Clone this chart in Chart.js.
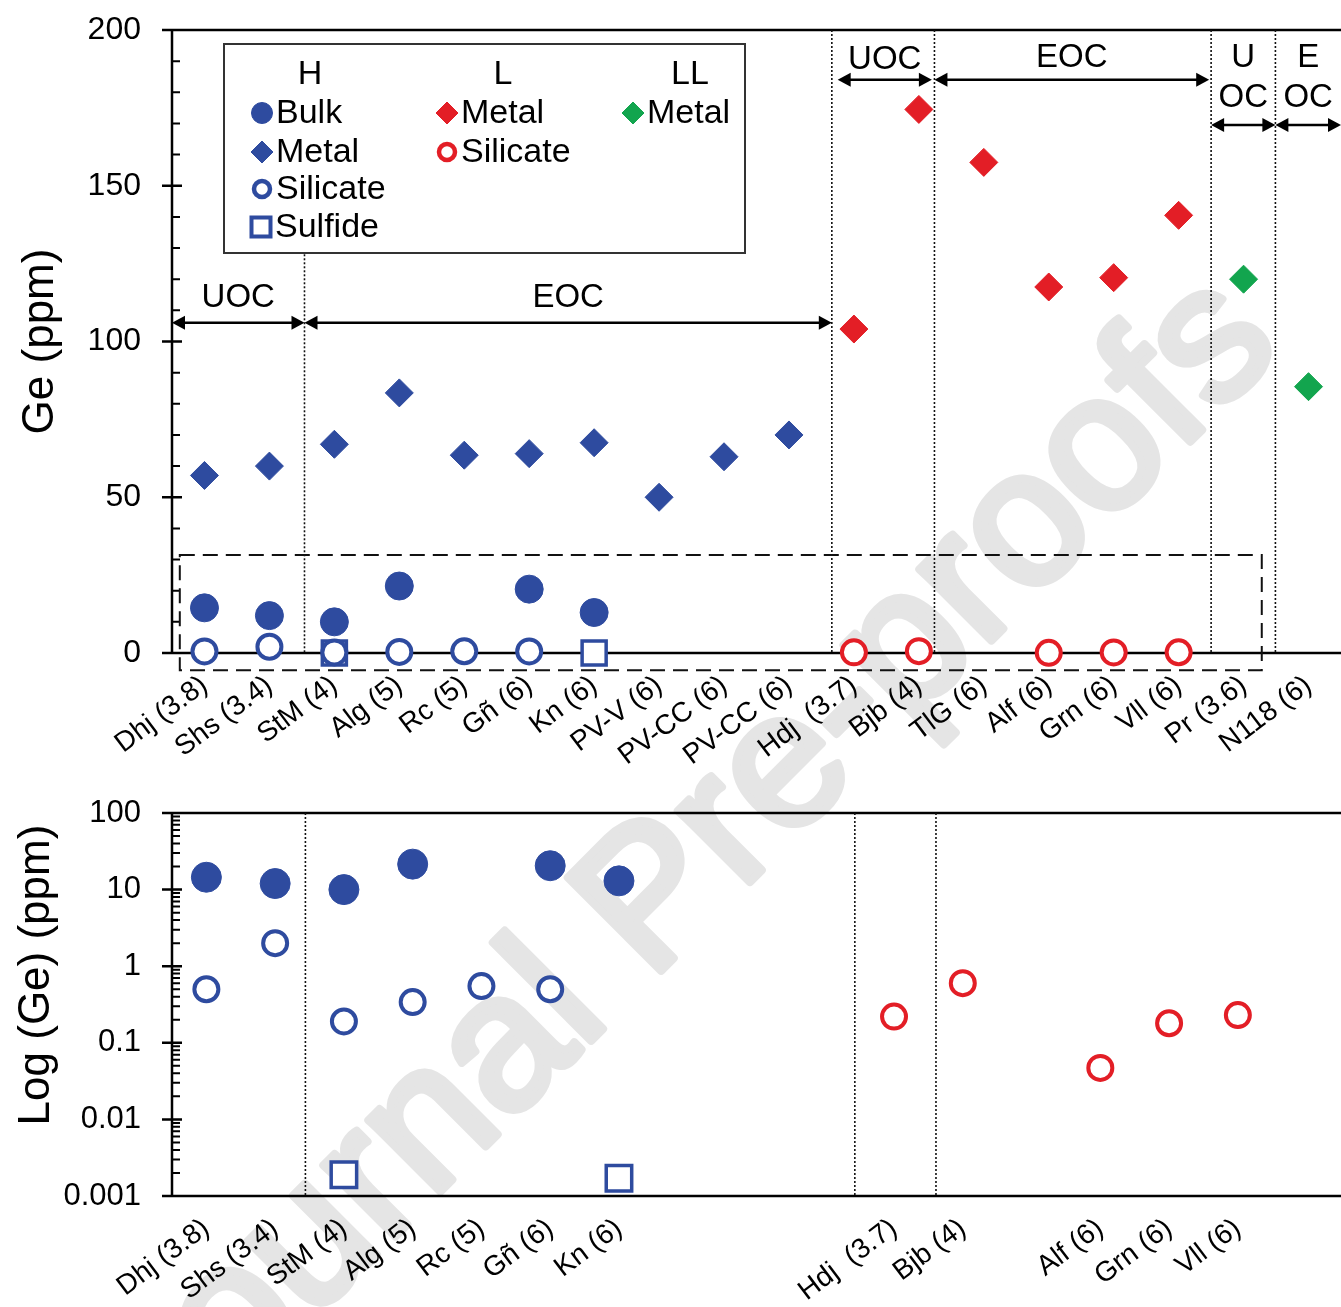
<!DOCTYPE html>
<html lang="en">
<head>
<meta charset="UTF-8">
<title>Ge (ppm) in ordinary chondrites</title>
<script src="https://cdn.jsdelivr.net/npm/chart.js"></script>
<style>
  body { margin: 0; background: #fff; }
  #wrap { position: relative; width: 1341px; height: 1307px; overflow: hidden; }
  #mark { position: absolute; left: 0; top: 0; }
  .box { position: absolute; left: 0; width: 1341px; }
  #topBox { top: 0; height: 790px; }
  #botBox { top: 790px; height: 517px; }
</style>
</head>
<body>
<div id="wrap">
  <canvas id="mark" width="1341" height="1307"></canvas>
  <div class="box" id="topBox"><canvas id="top"></canvas></div>
  <div class="box" id="botBox"><canvas id="bottom"></canvas></div>
</div>
<script>
// samples, petrologic type in brackets
const samples = ['Dhj (3.8)', 'Shs (3.4)', 'StM (4)', 'Alg (5)', 'Rc (5)', 'Gñ (6)', 'Kn (6)',
  'PV-V (6)', 'PV-CC (6)', 'PV-CC (6)', 'Hdj  (3.7)', 'Bjb (4)', 'TlG (6)', 'Alf (6)',
  'Grn (6)', 'Vll (6)', 'Pr (3.6)', 'N118 (6)'];

// Ge (ppm)
const bulkH     = [14.5, 12, 10, 21.5, null, 20.5, 13, null, null, null, null, null, null, null, null, null, null, null];
const metalH    = [57, 60, 67, 83.5, 63.5, 64, 67.5, 50, 63, 70, null, null, null, null, null, null, null, null];
const silicateH = [0.5, 2.0, 0.19, 0.34, 0.55, 0.5, null, null, null, null, null, null, null, null, null, null, null, null];
const sulfideH  = [null, null, 0.0019, null, null, null, 0.0017, null, null, null, null, null, null, null, null, null, null, null];
const metalL    = [null, null, null, null, null, null, null, null, null, null, 104, 174.5, 157.5, 117.5, 120.5, 140.5, null, null];
const silicateL = [null, null, null, null, null, null, null, null, null, null, 0.22, 0.6, null, 0.047, 0.18, 0.23, null, null];
const metalLL   = [null, null, null, null, null, null, null, null, null, null, null, null, null, null, null, null, 120, 85.5];

const linTicks = [0, 50, 100, 150, 200];
const logTicks = [0.001, 0.01, 0.1, 1, 10, 100];

// group separators and UOC / EOC spans, in axis units
const topSeparators = [{ x: 1.54, from: 128 }, { x: 9.66, from: 200 }, { x: 11.24, from: 200 },
  { x: 15.5, from: 200 }, { x: 16.49, from: 200 }];
const logSeparators = [1.44, 9.43, 10.61];
const topSpans = [
  { label: ['UOC'], from: -0.5, to: 1.54, y: 106, labelY: 114 },
  { label: ['EOC'], from: 1.54, to: 9.66, y: 106, labelY: 114 },
  { label: ['UOC'], from: 9.75, to: 11.2, y: 184, labelY: 190.5 },
  { label: ['EOC'], from: 11.24, to: 15.47, y: 184, labelY: 191 },
  { label: ['U', 'OC'], from: 15.5, to: 16.49, y: 169.5, labelY: 191 },
  { label: ['E', 'OC'], from: 16.49, to: 17.5, y: 169.5, labelY: 191 }
];

const FONT = "'Liberation Sans', Arial, sans-serif";
const BLUE = '#2e4b9f', RED = '#e31e26', GREEN = '#12a54e';

function pts(arr) {
  return arr.map((v, i) => (v == null ? null : { x: i, y: v })).filter(p => p);
}

const styles = {
  bulkH:     { pointStyle: 'circle',  pointRadius: 14, pointBackgroundColor: BLUE, pointBorderColor: BLUE, pointBorderWidth: 1 },
  metalH:    { pointStyle: 'rectRot', pointRadius: 14, pointBackgroundColor: BLUE, pointBorderColor: BLUE, pointBorderWidth: 1 },
  silicateH: { pointStyle: 'circle',  pointRadius: 12, pointBackgroundColor: '#fff', pointBorderColor: BLUE, pointBorderWidth: 4 },
  sulfideH:  { pointStyle: 'rect',    pointRadius: 17, pointBackgroundColor: '#fff', pointBorderColor: BLUE, pointBorderWidth: 3.5 },
  metalL:    { pointStyle: 'rectRot', pointRadius: 14, pointBackgroundColor: RED, pointBorderColor: RED, pointBorderWidth: 1 },
  silicateL: { pointStyle: 'circle',  pointRadius: 12, pointBackgroundColor: '#fff', pointBorderColor: RED, pointBorderWidth: 4 },
  metalLL:   { pointStyle: 'rectRot', pointRadius: 14, pointBackgroundColor: GREEN, pointBorderColor: GREEN, pointBorderWidth: 1 }
};

function ds(label, arr, key, extra) {
  return Object.assign({ label: label, data: pts(arr), clip: false, showLine: false }, styles[key], extra || {});
}

// --- small drawing helpers ---
function marker(ctx, style, x, y, r, lw) {
  ctx.save();
  ctx.beginPath();
  if (style.pointStyle === 'circle') {
    ctx.arc(x, y, r, 0, Math.PI * 2);
  } else if (style.pointStyle === 'rectRot') {
    ctx.moveTo(x, y - r); ctx.lineTo(x + r, y); ctx.lineTo(x, y + r); ctx.lineTo(x - r, y); ctx.closePath();
  } else {
    ctx.rect(x - r, y - r, 2 * r, 2 * r);
  }
  ctx.fillStyle = style.pointBackgroundColor;
  ctx.fill();
  ctx.lineWidth = lw;
  ctx.strokeStyle = style.pointBorderColor;
  ctx.stroke();
  ctx.restore();
}

function arrow(ctx, x1, x2, y) {
  const hl = 13, hw = 7;
  ctx.save();
  ctx.strokeStyle = '#000'; ctx.fillStyle = '#000'; ctx.lineWidth = 2.5;
  ctx.beginPath(); ctx.moveTo(x1 + 4, y); ctx.lineTo(x2 - 4, y); ctx.stroke();
  ctx.beginPath(); ctx.moveTo(x1, y); ctx.lineTo(x1 + hl, y - hw); ctx.lineTo(x1 + hl, y + hw); ctx.closePath(); ctx.fill();
  ctx.beginPath(); ctx.moveTo(x2, y); ctx.lineTo(x2 - hl, y - hw); ctx.lineTo(x2 - hl, y + hw); ctx.closePath(); ctx.fill();
  ctx.restore();
}

function frame(chart, minors) {
  const { ctx, chartArea: a, scales: { y } } = chart;
  const yBase = y.getPixelForValue(y.min);
  ctx.save();
  ctx.strokeStyle = '#000';
  ctx.lineWidth = 2.5;
  ctx.beginPath();
  ctx.moveTo(a.left, a.top); ctx.lineTo(chart.width, a.top);
  ctx.moveTo(a.left, a.top); ctx.lineTo(a.left, yBase);
  ctx.moveTo(a.left, yBase); ctx.lineTo(chart.width, yBase);
  y.ticks.forEach(t => {
    const p = y.getPixelForValue(t.value);
    ctx.moveTo(a.left - 10, p); ctx.lineTo(a.left + 10, p);
  });
  ctx.stroke();
  ctx.lineWidth = 2;
  ctx.beginPath();
  minors.forEach(v => {
    const p = y.getPixelForValue(v);
    ctx.moveTo(a.left, p); ctx.lineTo(a.left + 8, p);
  });
  ctx.stroke();
  ctx.restore();
}

function dotted(ctx, x, y1, y2) {
  ctx.save();
  ctx.strokeStyle = '#111'; ctx.lineWidth = 1.6; ctx.setLineDash([2, 2]);
  ctx.beginPath(); ctx.moveTo(x, y1); ctx.lineTo(x, y2); ctx.stroke();
  ctx.restore();
}

const topDecor = {
  id: 'topDecor',
  beforeDatasetsDraw(chart) {
    const { ctx, scales: { x, y } } = chart;
    const minors = [];
    for (let v = 10; v < 200; v += 10) if (v % 50) minors.push(v);
    frame(chart, minors);
    topSeparators.forEach(s => dotted(ctx, x.getPixelForValue(s.x), y.getPixelForValue(s.from), y.getPixelForValue(0)));
    // dashed box round the low values
    ctx.save();
    ctx.strokeStyle = '#111'; ctx.lineWidth = 2; ctx.setLineDash([15, 8]);
    const bx1 = x.getPixelForValue(-0.38), bx2 = x.getPixelForValue(16.28);
    const by1 = y.getPixelForValue(31.5), by2 = y.getPixelForValue(-5.5);
    ctx.strokeRect(bx1, by1, bx2 - bx1, by2 - by1);
    ctx.restore();
  },
  afterDatasetsDraw(chart) {
    const { ctx, scales: { x, y } } = chart;
    // spans
    ctx.save();
    ctx.font = '33px ' + FONT; ctx.fillStyle = '#000'; ctx.textAlign = 'center'; ctx.textBaseline = 'middle';
    topSpans.forEach(s => {
      const x1 = x.getPixelForValue(s.from), x2 = Math.min(x.getPixelForValue(s.to), chart.width + 2);
      arrow(ctx, x1, x2, y.getPixelForValue(s.y));
      const cx = (x.getPixelForValue(s.from) + x.getPixelForValue(s.to)) / 2;
      s.label.forEach((t, k) => ctx.fillText(t, cx, y.getPixelForValue(s.labelY) + k * 40));
    });
    ctx.restore();
    // legend
    const L = 224, T = 44, W = 521, H = 209;
    ctx.save();
    ctx.fillStyle = '#fff'; ctx.fillRect(L, T, W, H);
    ctx.strokeStyle = '#333'; ctx.lineWidth = 2; ctx.strokeRect(L, T, W, H);
    ctx.font = '34px ' + FONT; ctx.fillStyle = '#000'; ctx.textBaseline = 'middle';
    ctx.textAlign = 'center';
    [['H', 310], ['L', 503], ['LL', 690]].forEach(h => ctx.fillText(h[0], h[1], 75));
    ctx.textAlign = 'left';
    const rows = [
      ['bulkH', 'Bulk', 262, 113, 10.5, 1], ['metalH', 'Metal', 262, 152, 11, 1],
      ['silicateH', 'Silicate', 262, 189, 8, 4.5], ['sulfideH', 'Sulfide', 261, 227, 9.5, 4],
      ['metalL', 'Metal', 447, 113, 11, 1], ['silicateL', 'Silicate', 447, 152, 8, 4.5],
      ['metalLL', 'Metal', 633, 113, 11, 1]
    ];
    rows.forEach(r => {
      marker(ctx, styles[r[0]], r[2], r[3], r[4], r[5]);
      ctx.fillStyle = '#000';
      ctx.fillText(r[1], r[2] + 14, r[3] + 1);
    });
    ctx.restore();
  }
};

const logDecor = {
  id: 'logDecor',
  beforeDatasetsDraw(chart) {
    const { ctx, chartArea: a, scales: { x } } = chart;
    const minors = [];
    for (let d = 0; d < logTicks.length - 1; d++)
      for (let k = 2; k <= 9; k++) minors.push(k * logTicks[d]);
    frame(chart, minors);
    logSeparators.forEach(s => dotted(ctx, x.getPixelForValue(s), a.top, a.bottom));
    // axis title sits a little above the middle of the panel
    ctx.save();
    ctx.translate(37, a.top + (a.bottom - a.top) * 0.423);
    ctx.rotate(-Math.PI / 2);
    ctx.font = '44px ' + FONT; ctx.fillStyle = '#000';
    ctx.textAlign = 'center'; ctx.textBaseline = 'middle';
    ctx.fillText('Log (Ge) (ppm)', 0, 0);
    ctx.restore();
  }
};

const xTicks = (size) => ({ autoSkip: false, minRotation: 37, maxRotation: 37, padding: 8, color: '#000',
  font: { family: FONT, size: size } });
const noPadY = (w) => s => { s.width = w; s.paddingTop = 0; s.paddingBottom = 0; };

new Chart(document.getElementById('top'), {
  type: 'scatter',
  data: {
    datasets: [
      ds('H Metal', metalH, 'metalH'),
      ds('H Bulk', bulkH, 'bulkH'),
      ds('H Silicate', silicateH, 'silicateH'),
      ds('H Sulfide', sulfideH, 'sulfideH'),
      ds('L Metal', metalL, 'metalL'),
      ds('L Silicate', silicateL, 'silicateL'),
      ds('LL Metal', metalLL, 'metalLL')
    ]
  },
  options: {
    responsive: true, maintainAspectRatio: false, animation: false,
    layout: { autoPadding: false, padding: { top: 30, right: 0, left: 0, bottom: 0 } },
    plugins: { legend: { display: false }, tooltip: { enabled: false } },
    scales: {
      x: {
        type: 'linear', min: -0.5, max: 17.5,
        grid: { display: false }, border: { display: false },
        afterBuildTicks: s => { s.ticks = samples.map((_, i) => ({ value: i })); },
        afterFit: s => { s.height = 137; s.paddingLeft = 0; s.paddingRight = 0; },
        ticks: Object.assign(xTicks(28), { callback: v => samples[v] })
      },
      y: {
        type: 'linear', min: 0, max: 200,
        grid: { display: false }, border: { display: false },
        afterBuildTicks: s => { s.ticks = linTicks.map(v => ({ value: v })); },
        afterFit: noPadY(172),
        ticks: { padding: 23, color: '#000', font: { family: FONT, size: 32 } },
        title: { display: true, text: 'Ge (ppm)', color: '#000', font: { family: FONT, size: 44 },
          padding: { top: 14, bottom: 0 } }
      }
    }
  },
  plugins: [topDecor]
});

// log panel only names the samples that have a value there
const logCount = 17;
const logLabels = samples.slice(0, logCount).map((s, i) =>
  (bulkH[i] != null || silicateH[i] != null || sulfideH[i] != null || silicateL[i] != null) ? s : '');

new Chart(document.getElementById('bottom'), {
  type: 'scatter',
  data: {
    datasets: [
      ds('H Bulk', bulkH, 'bulkH', { pointRadius: 15 }),
      ds('H Silicate', silicateH, 'silicateH'),
      ds('H Sulfide', sulfideH, 'sulfideH', { pointRadius: 18 }),
      ds('L Silicate', silicateL, 'silicateL')
    ]
  },
  options: {
    responsive: true, maintainAspectRatio: false, animation: false,
    layout: { autoPadding: false, padding: { top: 23, right: 0, left: 0, bottom: 0 } },
    plugins: { legend: { display: false }, tooltip: { enabled: false } },
    scales: {
      x: {
        type: 'linear', min: -0.5, max: logCount - 0.5,
        grid: { display: false }, border: { display: false },
        afterBuildTicks: s => { s.ticks = logLabels.map((_, i) => ({ value: i })); },
        afterFit: s => { s.height = 111; s.paddingLeft = 0; s.paddingRight = 0; },
        ticks: Object.assign(xTicks(28), { callback: v => logLabels[v] })
      },
      y: {
        type: 'logarithmic', min: 0.001, max: 100,
        grid: { display: false }, border: { display: false },
        afterBuildTicks: s => { s.ticks = logTicks.map(v => ({ value: v })); },
        afterFit: noPadY(172),
        ticks: { padding: 23, color: '#000', font: { family: FONT, size: 31 }, callback: v => String(v) }
      }
    }
  },
  plugins: [logDecor]
});

// "Journal Pre-proofs" watermark behind both panels
(function () {
  const ctx = document.getElementById('mark').getContext('2d');
  ctx.save();
  ctx.translate(650, 982);
  ctx.rotate(-Math.PI / 4);
  ctx.fillStyle = '#e5e5e5';
  ctx.strokeStyle = '#e5e5e5';
  ctx.lineWidth = 8;
  ctx.lineJoin = 'round';
  ctx.font = '192px ' + FONT;
  ctx.textBaseline = 'alphabetic';
  ctx.textAlign = 'left';
  ctx.fillText('Pre-proofs', 0, 0);
  ctx.strokeText('Pre-proofs', 0, 0);
  ctx.textAlign = 'right';
  ctx.fillText('Journal ', 0, 0);
  ctx.strokeText('Journal ', 0, 0);
  ctx.restore();
})();
</script>
</body>
</html>
